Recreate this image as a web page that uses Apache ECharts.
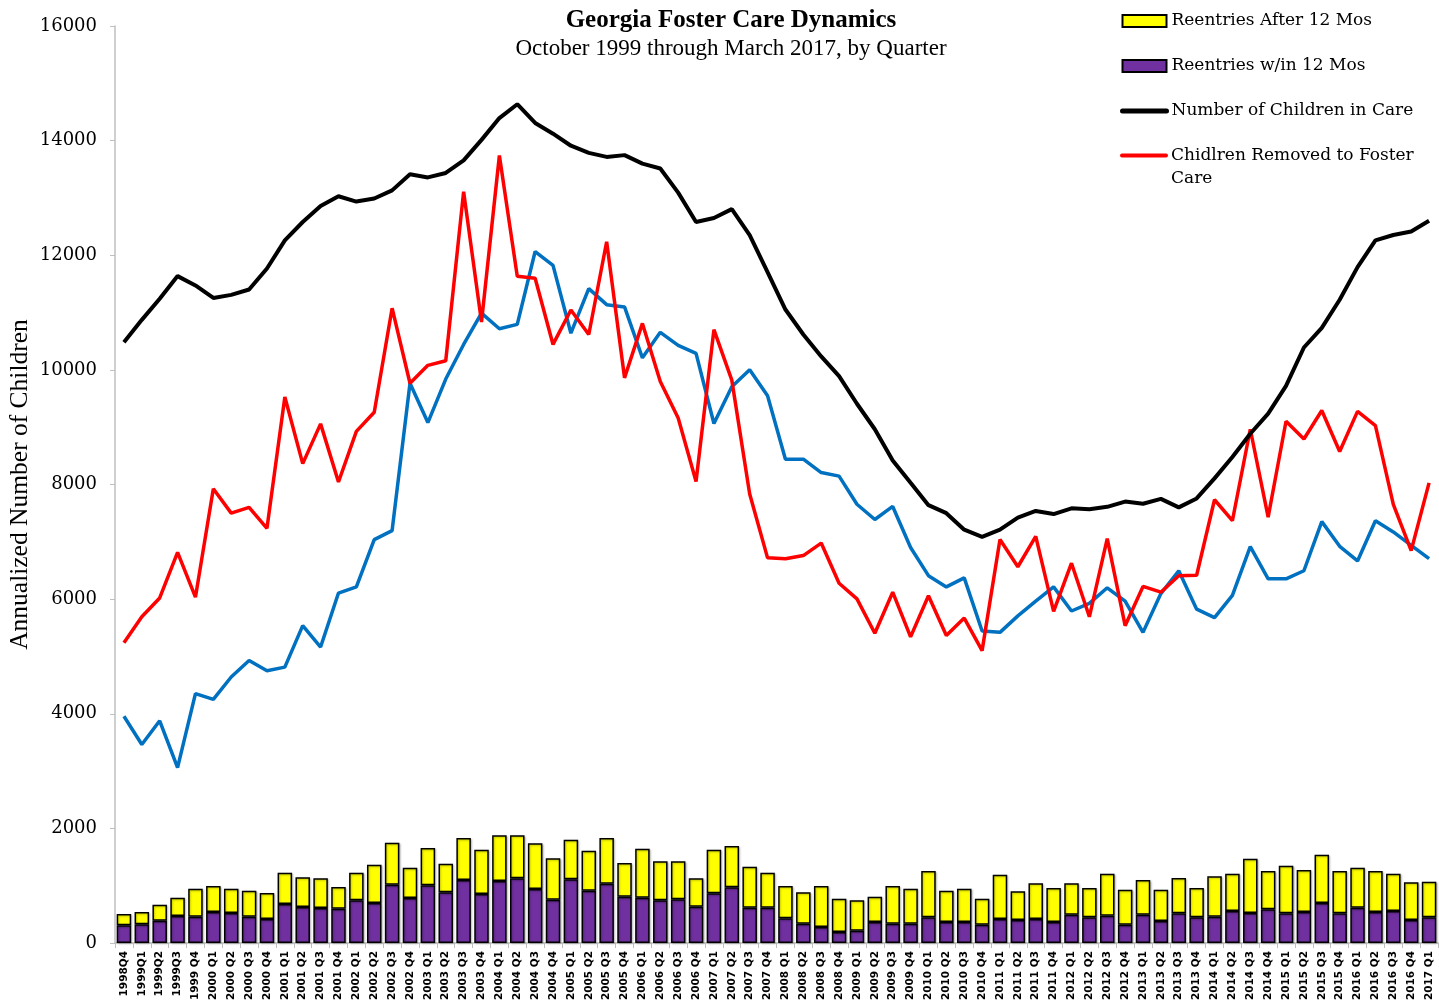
<!DOCTYPE html>
<html>
<head>
<meta charset="utf-8">
<script src="https://cdn.jsdelivr.net/npm/echarts@6/dist/echarts.min.js"></script>
<style>
  html, body { margin: 0; padding: 0; background: #fff; }
  #chart { width: 1439px; height: 1007px; }
</style>
</head>
<body>
<div id="chart"></div>
<script>
const categories = ['1998Q4','1999Q1','1999Q2','1999Q3','1999 Q4',
  '2000 Q1','2000 Q2','2000 Q3','2000 Q4','2001 Q1','2001 Q2','2001 Q3','2001 Q4',
  '2002 Q1','2002 Q2','2002 Q3','2002 Q4','2003 Q1','2003 Q2','2003 Q3','2003 Q4',
  '2004 Q1','2004 Q2','2004 Q3','2004 Q4','2005 Q1','2005 Q2','2005 Q3','2005 Q4',
  '2006 Q1','2006 Q2','2006 Q3','2006 Q4','2007 Q1','2007 Q2','2007 Q3','2007 Q4',
  '2008 Q1','2008 Q2','2008 Q3','2008 Q4','2009 Q1','2009 Q2','2009 Q3','2009 Q4',
  '2010 Q1','2010 Q2','2010 Q3','2010 Q4','2011 Q1','2011 Q2','2011 Q3','2011 Q4',
  '2012 Q1','2012 Q2','2012 Q3','2012 Q4','2013 Q1','2013 Q2','2013 Q3','2013 Q4',
  '2014 Q1','2014 Q2','2014 Q3','2014 Q4','2015 Q1','2015 Q2','2015 Q3','2015 Q4',
  '2016 Q1','2016 Q2','2016 Q3','2016 Q4','2017 Q1'];

const reentriesWithin12 = [308,326,390,471,459,541,523,459,419,681,628,611,599,745,698,1018,785,1006,884,1099,855,1082,1128,942,756,1111,913,1035,809,791,745,762,634,867,971,617,617,430,337,279,192,215,366,337,337,448,366,366,320,419,401,419,366,494,448,477,320,494,384,517,448,459,558,523,587,517,541,698,517,617,541,558,401,448];

const reentriesAfter12 = [198,215,279,320,489,454,425,454,453,546,518,517,378,482,669,733,529,652,500,733,774,797,751,797,722,692,698,797,587,855,680,663,494,762,722,715,610,565,547,716,582,530,443,658,611,808,547,582,454,773,501,622,594,547,512,733,611,605,547,617,512,704,652,949,669,833,733,843,739,697,715,652,657,622];

const childrenInCare = [10484,10873,11240,11636,11473,11255,11309,11402,11768,12260,12580,12859,13030,12937,12991,13132,13412,13358,13436,13655,14013,14394,14635,14309,14121,13911,13786,13716,13747,13599,13513,13092,12580,12649,12805,12353,11707,11053,10617,10235,9891,9409,8964,8420,8029,7640,7500,7212,7087,7212,7422,7538,7484,7585,7570,7610,7702,7664,7750,7601,7757,8107,8481,8886,9236,9720,10390,10733,11224,11793,12260,12353,12415,12602];

const childrenRemoved = [5240,5692,6020,6814,6034,7927,7500,7601,7235,9526,8364,9058,8044,8926,9261,11076,9767,10079,10160,13109,10835,13741,11632,11598,10444,11044,10617,12236,9861,10811,9798,9160,8053,10702,9821,7835,6720,6706,6760,6978,6277,6004,5404,6121,5342,6058,5366,5670,5101,7039,6565,7095,5786,6627,5692,7055,5537,6222,6121,6409,6417,7734,7368,8964,7430,9104,8793,9292,8575,9276,9027,7655,6846,8029];

const childrenExiting = [3956,3464,3877,3059,4351,4251,4641,4929,4750,4813,5537,5164,6106,6213,7039,7196,9767,9081,9840,10444,10990,10718,10794,12065,11824,10640,11418,11138,11098,10210,10655,10428,10288,9065,9704,10001,9548,8440,8442,8208,8146,7655,7390,7617,6900,6409,6213,6371,5443,5420,5708,5964,6213,5793,5926,6198,5964,5420,6097,6495,5825,5676,6066,6915,6355,6355,6495,7352,6922,6666,7368,7172,6938,6706];

const yTicks = { min: 0, max: 16000, interval: 2000 };

const chart = echarts.init(document.getElementById('chart'), null, { renderer: 'canvas' });
const serifLegend = 'DejaVu Serif';
const barStyle = (c) => ({ color: c, borderColor: '#000', borderWidth: 1.5,
  shadowColor: 'rgba(0,0,0,0.25)', shadowBlur: 2, shadowOffsetX: 1, shadowOffsetY: 1 });
const hiddenSymbol = { color: 'rgba(0,0,0,0)', borderColor: 'rgba(0,0,0,0)', borderWidth: 0, opacity: 0 };
const legendText = { fontFamily: serifLegend, fontSize: 17, color: '#000', lineHeight: 20 };

chart.setOption({
  animation: false,
  backgroundColor: '#fff',
  title: {
    text: 'Georgia Foster Care Dynamics',
    subtext: 'October 1999 through March 2017, by Quarter',
    left: 726, top: 3, textAlign: 'center', itemGap: 4,
    textStyle: { fontFamily: 'Liberation Serif', fontWeight: 'bold', fontSize: 25, color: '#000' },
    subtextStyle: { fontFamily: 'Liberation Serif', fontSize: 23, color: '#000' }
  },
  legend: [{
    orient: 'vertical', left: 1120, top: 11, padding: 0,
    itemWidth: 44, itemHeight: 12, itemGap: 25,
    data: [
      { name: 'Reentries After 12 Mos', icon: 'rect' },
      { name: 'Reentries w/in 12 Mos', icon: 'rect' },
      { name: 'Number of Children in Care', itemStyle: hiddenSymbol,
        lineStyle: { width: 5, cap: 'round', color: '#000' } }
    ],
    textStyle: legendText
  }, {
    orient: 'vertical', left: 1120, top: 124, padding: 0,
    itemWidth: 44, itemHeight: 12,
    data: [
      { name: 'Chidlren Removed to Foster Care', itemStyle: hiddenSymbol,
        lineStyle: { width: 4, cap: 'round', color: '#FF0000' } }
    ],
    formatter: () => '{a|Chidlren Removed to Foster\nCare}',
    textStyle: Object.assign({}, legendText, {
      rich: { a: { fontFamily: serifLegend, fontSize: 17, color: '#000', lineHeight: 23, padding: [23, 0, 0, 0] } }
    })
  }],
  grid: { left: 115, right: 1, top: 26, bottom: 64, containLabel: false, outerBoundsMode: 'none' },
  xAxis: {
    type: 'category', data: categories, boundaryGap: true,
    axisLine: { show: true, lineStyle: { color: '#BFBFBF', width: 1.5 } },
    axisTick: { show: true, interval: 0, length: 5, lineStyle: { color: '#BFBFBF' } },
    axisLabel: { interval: 0, rotate: 90, fontSize: 10.5, fontWeight: 'bold',
      fontFamily: 'DejaVu Sans', color: '#000', margin: 8 },
    splitLine: { show: false }
  },
  yAxis: {
    type: 'value', min: yTicks.min, max: yTicks.max, interval: yTicks.interval,
    name: 'Annualized Number of Children', nameLocation: 'middle', nameGap: 82,
    nameMoveOverlap: false,
    nameTextStyle: { fontFamily: 'Liberation Serif', fontSize: 25.5, color: '#000' },
    axisLine: { show: true, lineStyle: { color: '#BFBFBF', width: 1.5 } },
    axisTick: { show: true, length: 5, lineStyle: { color: '#BFBFBF' } },
    axisLabel: { fontFamily: serifLegend, fontSize: 18, color: '#000', margin: 18,
      formatter: (v) => String(v) },
    splitLine: { show: false }
  },
  series: [
    { name: 'Reentries w/in 12 Mos', type: 'bar', stack: 'r', data: reentriesWithin12,
      barWidth: 14.5, itemStyle: barStyle('#7030A0'), z: 2 },
    { name: 'Reentries After 12 Mos', type: 'bar', stack: 'r', data: reentriesAfter12,
      barWidth: 14.5, itemStyle: barStyle('#FFFF00'), z: 2 },
    { name: 'Children Exiting Care', type: 'line', data: childrenExiting, symbol: 'none',
      lineStyle: { color: '#0070C0', width: 3.5 }, itemStyle: { color: '#0070C0' }, z: 3 },
    { name: 'Chidlren Removed to Foster Care', type: 'line', data: childrenRemoved, symbol: 'none',
      lineStyle: { color: '#FF0000', width: 3.5 }, itemStyle: { color: '#FF0000' }, z: 4 },
    { name: 'Number of Children in Care', type: 'line', data: childrenInCare, symbol: 'none',
      lineStyle: { color: '#000000', width: 4 }, itemStyle: { color: '#000000' }, z: 5 }
  ]
});
</script>
</body>
</html>
